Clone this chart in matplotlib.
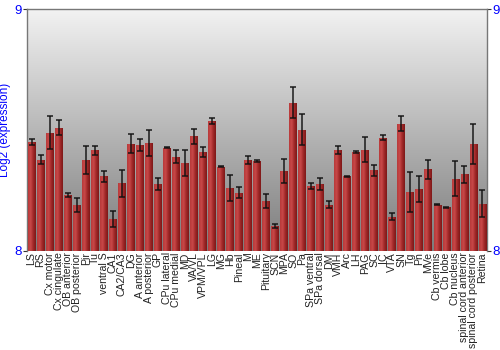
import matplotlib
matplotlib.use("Agg")
import matplotlib.pyplot as plt
import numpy as np
from matplotlib.colors import LinearSegmentedColormap

plt.rcParams["font.family"] = ["Liberation Sans", "DejaVu Sans"]

regions = [
    "LS", "RS", "Cx motor", "Cx cingulate", "OB anterior", "OB posterior",
    "Pir", "Tu", "ventral S", "CA1", "CA2/CA3", "DG", "A anterior",
    "A posterior", "GP", "CPu lateral", "CPu medial", "MD", "VA/VL",
    "VPM/VPL", "LG", "MG", "Hb", "Pineal", "M", "ME", "Pituitary", "SCN",
    "MPA", "SO", "Pa", "SPa ventral", "SPa dorsal", "DM", "VMH", "Arc", "LH",
    "PAG", "SC", "IC", "VTA", "SN", "Tg", "Pn", "MVe", "Cb vermis", "Cb lobe",
    "Cb nucleus", "spinal cord anterior", "spinal cord posterior", "Retina",
]
expression = [
    8.449, 8.378, 8.488, 8.510, 8.231, 8.191, 8.376, 8.416, 8.308, 8.133,
    8.279, 8.444, 8.437, 8.445, 8.277, 8.427, 8.390, 8.364, 8.474, 8.410,
    8.537, 8.349, 8.259, 8.241, 8.376, 8.373, 8.207, 8.102, 8.331, 8.613,
    8.502, 8.268, 8.277, 8.191, 8.418, 8.308, 8.411, 8.418, 8.333, 8.469,
    8.142, 8.526, 8.244, 8.256, 8.337, 8.191, 8.180, 8.299, 8.317, 8.441,
    8.196,
]
errors = [
    0.012, 0.017, 0.068, 0.032, 0.008, 0.030, 0.058, 0.020, 0.021, 0.032,
    0.055, 0.041, 0.025, 0.054, 0.025, 0.003, 0.027, 0.053, 0.030, 0.021,
    0.012, 0.003, 0.053, 0.023, 0.015, 0.005, 0.028, 0.008, 0.049, 0.065,
    0.063, 0.011, 0.026, 0.014, 0.017, 0.003, 0.004, 0.052, 0.024, 0.012,
    0.014, 0.030, 0.082, 0.053, 0.041, 0.002, 0.002, 0.072, 0.034, 0.082,
    0.057,
]

y_min, y_max = 8.0, 9.0
bar_w = 0.86

fig = plt.figure(figsize=(5, 3.5), dpi=100)
ax = fig.add_axes([0.054, 0.283, 0.920, 0.691])

x = np.arange(len(regions))
ax.set_xlim(-0.5, len(regions) - 0.5)
ax.set_ylim(y_min, y_max)

# background: vertical gray gradient
bg = LinearSegmentedColormap.from_list("bg", ["#7c7c7c", "#f2f2f2"])
ax.imshow(np.linspace(0, 1, 256).reshape(-1, 1), cmap=bg, aspect="auto",
          origin="lower", extent=(-0.5, len(regions) - 0.5, y_min, y_max),
          zorder=0)

# bars with horizontal red gradient
bar_cmap = LinearSegmentedColormap.from_list(
    "bar", ["#b83a3a", "#c84848", "#a02828", "#7e1818"])
grad = np.linspace(0, 1, 32).reshape(1, -1)
bars = ax.bar(x, np.array(expression) - y_min, bottom=y_min, width=bar_w,
              color="#a83030", edgecolor="none", zorder=2)
for b in bars:
    bx, by = b.get_x(), b.get_y()
    im = ax.imshow(grad, cmap=bar_cmap, aspect="auto",
                   extent=(bx, bx + b.get_width(), by, by + b.get_height()),
                   zorder=3)
    im.set_clip_path(b)

ax.errorbar(x, expression, yerr=errors, fmt="none", ecolor="#111111",
            elinewidth=1.3, capsize=2.5, capthick=1.3, alpha=0.8, zorder=4)

ax.set_xticks(x)
ax.set_xticklabels(regions, rotation=90, fontsize=7.6, color="#222222")
ax.tick_params(axis="x", length=0, pad=1)

ax.set_yticks([8, 9])
ax.set_yticklabels(["8", "9"])
ax.tick_params(axis="y", labelsize=9.5, labelcolor="#0000ff", length=3,
               color="#333333", right=True, labelright=True, pad=1)
ax.set_ylabel("Log2 (expression)", color="#0000ff", fontsize=8.5, labelpad=2)

for side in ["left", "top", "right"]:
    ax.spines[side].set_color("#777777")
    ax.spines[side].set_linewidth(1)
ax.spines["bottom"].set_visible(False)

fig.savefig("out.png", dpi=100, facecolor="white")
